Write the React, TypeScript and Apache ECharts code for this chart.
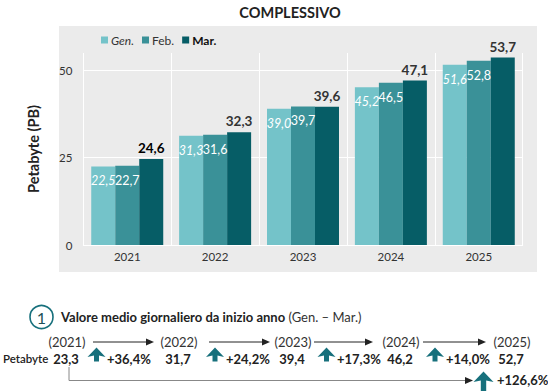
import React, { useEffect, useRef } from "react";
import * as echarts from "echarts";

const years = ["2021", "2022", "2023", "2024", "2025"];
const seriesNames = ["Gen.", "Feb.", "Mar."];
const genValues = [22.5, 31.3, 39.0, 45.2, 51.6];
const febValues = [22.7, 31.6, 39.7, 46.5, 52.8];
const marValues = [24.6, 32.3, 39.6, 47.1, 53.7];
const yTicks = [0, 25, 50];

const summaryTitle = "Valore medio giornaliero da inizio anno";
const summaryPeriod = "(Gen. – Mar.)";
const summaryYears = ["(2021)", "(2022)", "(2023)", "(2024)", "(2025)"];
const summaryValues = ["23,3", "31,7", "39,4", "46,2", "52,7"];
const growthValues = ["+36,4%", "+24,2%", "+17,3%", "+14,0%"];
const totalGrowth = "+126,6%";

const COLORS = ["#74c3c9", "#3a9198", "#065d66"];
const TEAL = "#17707c";
const FONT = "Lato";

const fmt = (v: number) => v.toFixed(1).replace(".", ",");

// layout (pixels)
const yearX = [67, 179, 293, 401, 512];
const arrowSpans = [
  [93, 154],
  [209, 270],
  [314, 373],
  [423, 486],
];
const upArrowX = [96.5, 215, 326.5, 435];
const growthX = [107, 226, 337, 446];
const ROW_TITLE = 317;
const ROW_YEARS = 342;
const ROW_VALUES = 358.5;

function upArrow(cx: number, top: number, hw: number, headH: number, sw: number, bottom: number) {
  return {
    type: "polygon",
    shape: {
      points: [
        [cx, top],
        [cx + hw, top + headH],
        [cx + sw, top + headH - 1.5],
        [cx + sw, bottom],
        [cx - sw, bottom],
        [cx - sw, top + headH - 1.5],
        [cx - hw, top + headH],
      ],
    },
    style: { fill: TEAL },
  };
}

function txt(text: string, x: number, y: number, opts: any = {}) {
  return {
    type: "text",
    x,
    y,
    style: {
      text,
      fontFamily: FONT,
      fontSize: opts.fontSize ?? 13,
      fontWeight: opts.fontWeight ?? "normal",
      fill: opts.fill ?? "#222",
      align: opts.align ?? "center",
      verticalAlign: "middle",
      textAlign: opts.align ?? "center",
      textVerticalAlign: "middle",
    },
  };
}

export default function App() {
  const ref = useRef<HTMLDivElement>(null);
  useEffect(() => {
    if (!ref.current) return;
    const chart = echarts.init(ref.current, undefined, { renderer: "svg" });

    const graphics: any[] = [
      {
        type: "rect",
        z: -100,
        shape: { x: 59, y: 26, width: 478, height: 246 },
        style: { fill: "#ebebeb" },
        silent: true,
      },
      txt("COMPLESSIVO", 290, 12, { fontSize: 14.5, fontWeight: "bold", fill: "#222" }),
      {
        type: "circle",
        shape: { cx: 41.5, cy: ROW_TITLE, r: 11.5 },
        style: { fill: "none", stroke: TEAL, lineWidth: 1.6 },
      },
      txt("1", 41.5, ROW_TITLE + 0.5, { fontSize: 16, fill: "#1d4f57" }),
      {
        type: "text",
        x: 61,
        y: ROW_TITLE,
        style: {
          text: `{b|${summaryTitle}} {r|${summaryPeriod}}`,
          verticalAlign: "middle",
          textVerticalAlign: "middle",
          rich: {
            b: { fontFamily: FONT, fontSize: 13, fontWeight: "bold", fill: "#222", color: "#222" },
            r: { fontFamily: FONT, fontSize: 13, fill: "#333", color: "#333" },
          },
        },
      },
      txt("Petabyte", 3, ROW_VALUES, { align: "left", fontWeight: 600, fontSize: 11.5, fill: "#222" }),
    ];

    summaryYears.forEach((y, i) => {
      graphics.push(txt(y, yearX[i], ROW_YEARS, { fill: "#333" }));
      graphics.push(txt(summaryValues[i], yearX[i] - 1, ROW_VALUES, { fontWeight: "bold" }));
    });
    arrowSpans.forEach(([x1, x2]) => {
      graphics.push({
        type: "line",
        shape: { x1, y1: ROW_YEARS, x2: x2 - 6, y2: ROW_YEARS },
        style: { stroke: "#222", lineWidth: 1 },
      });
      graphics.push({
        type: "polygon",
        shape: { points: [[x2, ROW_YEARS], [x2 - 8, ROW_YEARS - 3.5], [x2 - 8, ROW_YEARS + 3.5]] },
        style: { fill: "#222" },
      });
    });
    growthValues.forEach((g, i) => {
      graphics.push(upArrow(upArrowX[i], 347.5, 9, 9.5, 2.5, 361.5));
      graphics.push(txt(g, growthX[i], ROW_VALUES, { align: "left", fontWeight: "bold" }));
    });
    // total growth bracket
    graphics.push({
      type: "polyline",
      shape: { points: [[69, 367], [69, 380.5], [465, 380.5]] },
      style: { stroke: "#888", lineWidth: 1, fill: "none" },
    });
    graphics.push({
      type: "polygon",
      shape: { points: [[473, 380.5], [465, 377], [465, 384]] },
      style: { fill: "#222" },
    });
    graphics.push(upArrow(483.5, 371.5, 10, 10.5, 2.7, 392));
    graphics.push(txt(totalGrowth, 497, 380, { align: "left", fontWeight: "bold" }));

    const labelCommon = { fontFamily: FONT, fontSize: 12 };

    chart.setOption({
      animation: false,
      textStyle: { fontFamily: FONT },
      legend: {
        left: 96,
        top: 29,
        icon: "rect",
        itemWidth: 7,
        itemHeight: 7,
        itemGap: 8,
        data: [
          { name: seriesNames[0], textStyle: { fontStyle: "italic", color: "#333" } },
          { name: seriesNames[1], textStyle: { color: "#333" } },
          { name: seriesNames[2], textStyle: { fontWeight: "bold", color: "#111" } },
        ],
        textStyle: { fontFamily: FONT, fontSize: 12, color: "#333", padding: [0, 0, 0, -2] },
      },
      grid: { left: 83.3, right: 25.3, top: 53, bottom: 146, containLabel: false },
      xAxis: {
        type: "category",
        data: years,
        axisLine: { show: true, lineStyle: { color: "#ffffff", width: 1 } },
        axisTick: { show: false },
        axisLabel: { fontFamily: FONT, fontSize: 11.5, color: "#333", margin: 5 },
        splitLine: { show: true, lineStyle: { color: "#ffffff", width: 1 } },
      },
      yAxis: {
        type: "value",
        min: 0,
        max: 55,
        interval: 25,
        name: "Petabyte (PB)",
        nameLocation: "middle",
        nameRotate: 90,
        nameGap: 42,
        nameTextStyle: { fontFamily: FONT, fontSize: 14.5, fontWeight: "bold", color: "#222" },
        axisLine: { show: false },
        axisTick: { show: false },
        axisLabel: {
          fontFamily: FONT,
          fontSize: 11.5,
          color: "#333",
          margin: 11,
          formatter: (v: number) => (yTicks.includes(v) ? String(v) : ""),
        },
        splitLine: {
          show: true,
          lineStyle: { color: ["rgba(0,0,0,0)", "#ffffff", "#ffffff", "rgba(0,0,0,0)"], width: 1 },
        },
      },
      series: [
        {
          name: seriesNames[0],
          type: "bar",
          data: genValues,
          barWidth: 24,
          barGap: "0%",
          itemStyle: { color: COLORS[0] },
          label: {
            show: true,
            position: "insideTop",
            distance: 8,
            formatter: (p: any) => fmt(p.value),
            ...labelCommon,
            fontSize: 12.5,
            fontStyle: "italic",
            color: "#ffffff",
          },
        },
        {
          name: seriesNames[1],
          type: "bar",
          data: febValues,
          barWidth: 24,
          barGap: "0%",
          itemStyle: { color: COLORS[1] },
          label: {
            show: true,
            position: "insideTop",
            distance: 8,
            formatter: (p: any) => fmt(p.value),
            ...labelCommon,
            fontSize: 12.5,
            color: "#ffffff",
          },
        },
        {
          name: seriesNames[2],
          type: "bar",
          data: marValues.map((v, i) => ({
            value: v,
            label: i === 0 ? { color: "#000" } : undefined,
          })),
          barWidth: 24,
          barGap: "0%",
          itemStyle: { color: COLORS[2] },
          label: {
            show: true,
            position: "top",
            distance: 4,
            formatter: (p: any) => fmt(p.value),
            ...labelCommon,
            fontSize: 13.5,
            fontWeight: "bold",
            color: "#333",
          },
        },
      ],
      graphic: { elements: graphics },
    });
    return () => chart.dispose();
  }, []);
  return (
    <div
      ref={ref}
      style={{ position: "absolute", left: 0, top: 0, width: 548, height: 391 }}
    />
  );
}
